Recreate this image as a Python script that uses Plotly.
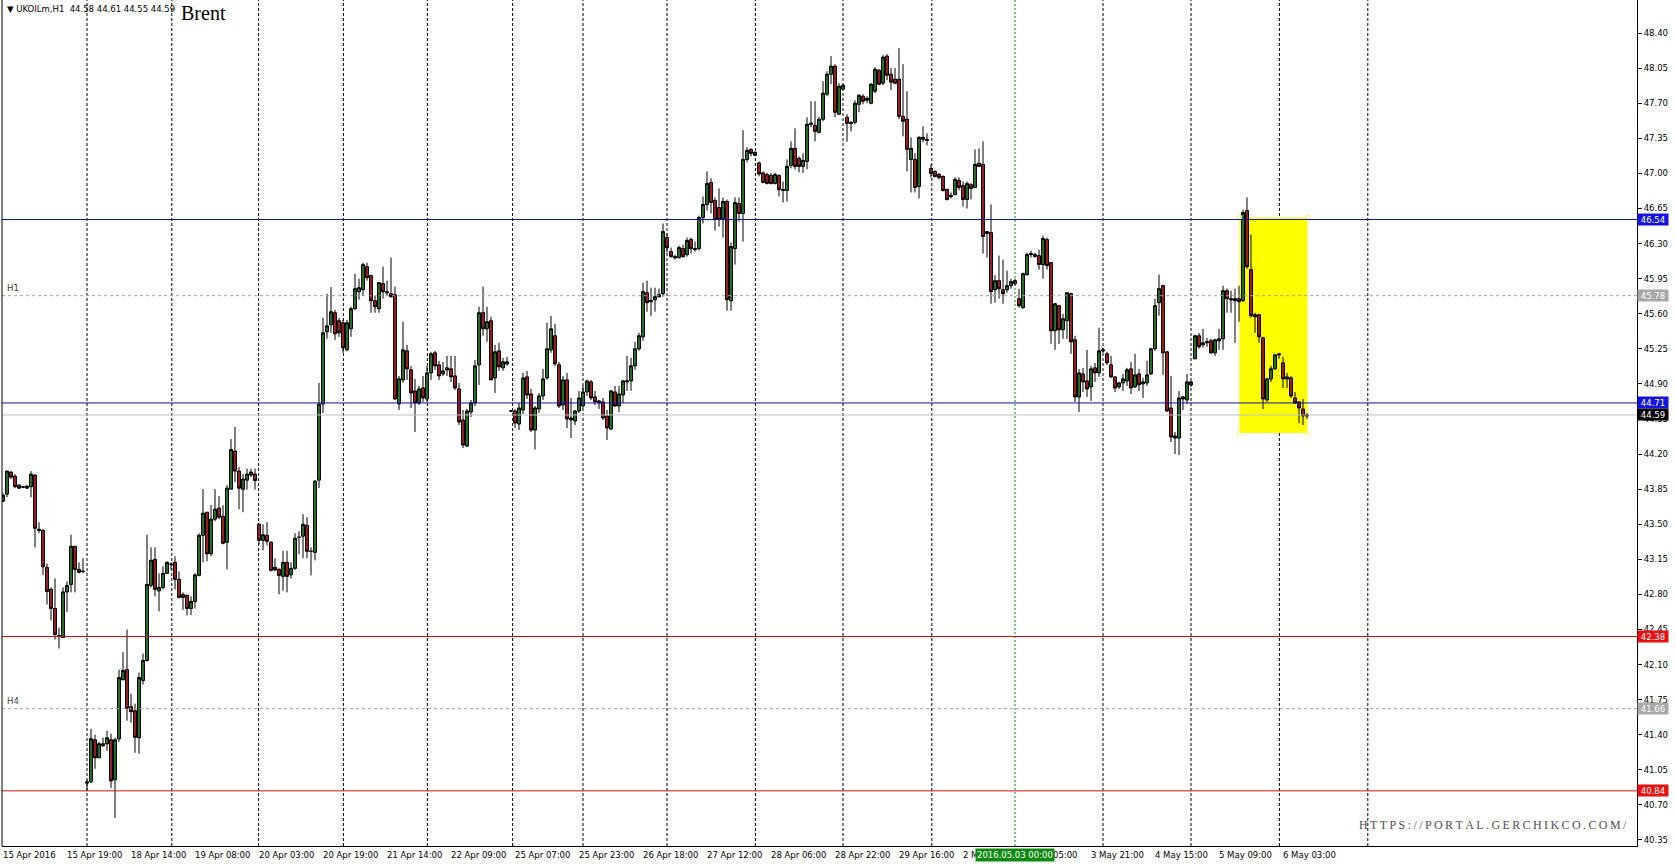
import plotly.graph_objects as go

# ---------------- data (UKOILm, H1) ----------------
opens = [43.73,43.80,44.02,43.98,43.89,43.875,43.86,43.875,43.99,43.45,43.44,43.07,42.85,42.66,42.39,42.37,42.825,42.90,43.28,43.05,43.03,
         40.93,40.93,41.35,41.17,41.29,41.31,41.35,40.95,41.36,41.95,42.05,41.68,41.64,41.37,41.94,42.14,42.89,43.15,42.835,42.87,43.01,43.10,43.12,42.95,42.80,42.79,42.66,42.73,42.99,
         43.39,43.62,43.205,43.55,43.66,43.58,43.32,43.85,44.23,44.03,43.85,43.94,43.99,44.00,43.50,43.34,43.39,43.32,43.07,43.05,
         42.98,43.12,42.995,43.06,43.37,43.38,43.49,43.23,43.22,43.94,44.70,45.42,45.49,45.61,45.53,45.51,45.24,45.45,45.65,45.82,
         45.84,46.07,45.98,45.73,45.65,45.90,45.82,45.80,45.79,44.70,44.94,45.23,45.04,44.83,44.71,44.86,44.75,45.01,45.21,45.09,
         45.00,45.06,45.05,44.98,44.85,44.54,44.28,44.62,44.71,45.09,45.61,45.45,45.53,44.96,45.23,45.06,45.10,44.63,44.63,44.50,
         44.64,44.97,44.80,44.44,44.65,44.78,44.96,45.24,45.38,45.09,44.69,44.94,44.56,44.53,44.63,44.68,44.82,44.92,44.77,44.73,
         44.72,44.58,44.45,44.82,44.68,44.79,44.92,44.93,45.08,45.25,45.37,45.81,45.72,45.74,45.77,45.80,46.36,46.22,46.17,46.16,
         46.25,46.19,46.34,46.25,46.25,46.56,46.69,46.91,46.73,46.66,46.55,46.72,45.73,46.25,46.70,46.60,47.14,47.24,47.21,47.105,
         47.005,46.99,46.98,46.90,46.98,46.84,46.83,47.08,47.25,47.15,47.07,47.12,47.49,47.48,47.41,47.54,47.79,47.99,48.07,47.59,
         47.84,47.56,47.51,47.51,47.69,47.77,47.75,47.70,47.82,48.03,47.90,48.17,47.99,47.94,47.94,47.57,47.54,47.14,47.14,46.87,
         47.36,47.34,47.05,47.02,46.99,46.97,46.84,46.77,46.79,46.93,46.88,46.74,46.89,46.86,47.10,47.09,46.42,46.41,45.84,45.93,
         45.84,45.84,45.88,45.90,45.75,45.66,45.99,46.19,46.19,46.18,46.09,46.34,46.11,45.43,45.68,45.44,45.53,45.80,45.34,44.77,
         45.00,44.93,44.87,45.06,45.01,45.24,45.20,45.09,44.97,44.87,44.91,44.93,45.05,44.87,45.00,44.90,44.91,45.00,45.25,45.71,
         45.88,45.22,44.66,44.36,44.36,44.77,44.74,44.89,45.15,45.38,45.31,45.31,45.33,45.21,45.33,45.35,45.83,45.75,45.75,45.75,
         45.73,46.63,46.04,45.59,45.59,45.36,44.74,44.95,45.05,45.20,45.11,44.97,44.96,44.76,44.72,44.65,44.58]
highs = [43.81,44.035,44.03,44.00,43.90,43.88,43.89,44.03,44.00,43.52,43.45,43.11,42.87,42.96,42.47,42.87,42.93,43.395,43.28,43.12,43.16,
         40.95,41.46,41.40,41.33,41.37,41.44,41.41,41.37,42.05,42.225,42.45,41.81,41.71,42.02,42.21,43.395,43.27,43.27,43.01,43.08,43.13,43.12,43.18,43.03,42.82,42.80,42.78,43.01,43.41,
         43.85,43.62,43.69,43.85,43.78,43.69,43.89,44.35,44.47,44.07,44.00,44.055,44.055,44.055,43.51,43.50,43.52,43.33,43.16,43.06,
         43.235,43.235,43.12,43.41,43.43,43.60,43.57,43.27,43.94,44.91,45.56,45.80,45.865,45.64,45.56,45.54,45.54,45.67,46.00,45.95,
         46.11,46.11,45.99,45.78,45.91,46.07,45.93,46.16,45.87,44.98,45.52,45.29,45.08,44.95,44.88,44.98,45.08,45.22,45.23,45.13,
         45.12,45.18,45.18,45.18,44.91,44.64,44.65,44.74,45.14,45.67,45.87,45.67,45.57,45.29,45.31,45.16,45.17,44.64,44.65,44.71,
         45.01,45.03,44.85,44.68,44.81,45.05,45.51,45.58,45.50,45.12,44.98,45.01,44.76,44.64,44.83,44.88,44.94,44.94,44.83,44.74,
         44.76,44.64,44.84,44.88,44.88,44.94,45.18,45.16,45.32,45.41,45.91,45.93,45.86,45.86,45.85,46.50,46.40,46.26,46.19,46.28,
         46.29,46.36,46.36,46.32,46.58,46.77,47.02,46.95,46.76,46.85,46.76,46.74,46.31,46.76,46.76,47.43,47.26,47.25,47.22,47.12,
         47.02,47.005,47.005,47.005,46.99,46.92,47.14,47.32,47.45,47.17,47.20,47.56,47.72,47.72,47.56,47.92,48.02,48.17,48.09,47.90,
         47.89,47.59,47.52,47.73,47.79,47.79,47.77,47.90,48.06,48.04,48.18,48.19,48.05,48.05,48.25,48.09,47.82,47.36,47.20,47.37,
         47.47,47.40,47.09,47.03,47.005,46.98,46.85,46.81,46.96,46.96,46.92,46.92,46.90,47.24,47.25,47.32,46.42,46.69,45.985,46.18,
         46.14,46.03,45.95,45.95,45.85,46.01,46.21,46.23,46.21,46.24,46.38,46.36,46.11,45.71,45.69,45.60,45.81,45.81,45.38,45.05,
         45.06,45.24,45.08,45.11,45.46,45.26,45.22,45.18,44.98,44.92,45.00,45.06,45.12,45.20,45.05,44.96,45.13,45.26,45.75,45.99,
         45.89,45.23,44.98,44.42,44.83,44.78,45.00,44.93,45.39,45.41,45.45,45.36,45.35,45.35,45.45,45.88,45.85,45.83,45.85,45.88,
         46.64,46.76,46.39,45.61,45.60,45.37,44.96,45.08,45.20,45.21,45.17,45.01,44.98,44.82,44.73,44.75,44.61]
lows = [43.72,43.77,43.95,43.86,43.85,43.86,43.855,43.77,43.27,43.41,42.995,42.70,42.54,42.35,42.26,42.37,42.625,42.82,42.82,43.01,43.01,
        40.84,40.92,41.06,41.17,41.28,41.24,40.87,40.57,41.33,41.94,41.54,41.52,41.22,41.21,41.90,42.13,42.87,42.78,42.63,42.85,43.01,43.045,42.85,42.76,42.645,42.59,42.595,42.66,42.98,
        43.12,43.13,43.18,43.53,43.55,43.30,43.05,43.85,43.92,43.65,43.62,43.845,43.97,43.845,43.30,43.24,43.29,43.03,43.03,42.80,
        42.835,42.82,42.96,43.045,43.20,43.16,43.16,42.99,43.14,43.86,44.61,45.35,45.41,45.34,45.37,45.21,45.225,45.37,45.64,45.74,
        45.78,45.93,45.61,45.61,45.61,45.75,45.78,45.76,44.74,44.64,44.91,44.94,44.66,44.42,44.69,44.72,44.72,44.94,45.04,44.94,
        44.98,44.98,44.92,44.84,44.49,44.26,44.27,44.57,44.68,44.89,45.38,45.32,44.94,44.81,45.03,45.03,45.08,44.62,44.46,44.44,
        44.60,44.75,44.42,44.245,44.61,44.74,44.94,45.21,45.08,44.66,44.64,44.46,44.36,44.49,44.61,44.66,44.78,44.74,44.69,44.65,
        44.54,44.34,44.44,44.67,44.62,44.71,44.83,44.83,45.04,45.23,45.33,45.62,45.58,45.62,45.76,45.77,46.21,46.16,46.14,46.15,
        46.16,46.17,46.20,46.22,46.23,46.50,46.63,46.60,46.43,46.47,46.36,45.63,45.63,46.09,46.52,46.32,47.11,47.17,47.18,46.97,
        46.90,46.89,46.89,46.89,46.77,46.71,46.72,47.05,47.04,47.01,47.005,47.04,47.46,47.32,47.40,47.52,47.77,47.89,47.56,47.59,
        47.84,47.315,47.42,47.49,47.61,47.69,47.70,47.69,47.80,47.88,47.88,47.93,47.83,47.89,47.54,47.37,47.02,46.81,46.81,46.75,
        47.31,47.28,46.96,46.96,46.94,46.82,46.73,46.75,46.78,46.83,46.67,46.65,46.74,46.86,47.07,46.20,46.16,45.70,45.71,45.75,
        45.70,45.81,45.85,45.88,45.66,45.65,45.98,46.16,46.16,46.04,45.95,46.04,45.30,45.24,45.30,45.35,45.35,45.20,44.72,44.62,
        44.82,44.77,44.73,44.92,44.97,45.21,45.09,44.96,44.82,44.85,44.83,44.88,44.80,44.86,44.83,44.76,44.88,44.99,45.23,45.58,
        44.99,44.62,44.32,44.20,44.19,44.64,44.70,44.87,45.15,45.25,45.26,45.27,45.20,45.18,45.24,45.24,45.61,45.61,45.31,45.52,
        45.72,46.05,45.56,45.41,45.31,44.65,44.72,44.92,45.04,45.15,44.86,44.86,44.76,44.70,44.51,44.49,44.55]
closes = [43.79,44.03,43.97,43.875,43.86,43.87,43.88,44.00,43.46,43.44,43.075,42.83,42.66,42.40,42.38,42.825,42.89,43.28,43.05,43.02,43.03,
          40.92,41.36,41.17,41.31,41.31,41.37,40.94,41.35,41.97,42.04,41.665,41.63,41.375,41.97,42.14,42.90,43.14,42.85,42.87,43.01,43.12,43.10,42.95,42.77,42.77,42.66,42.73,42.995,43.39,
          43.61,43.205,43.55,43.65,43.57,43.31,43.86,44.245,44.03,43.86,43.95,44.00,44.02,43.936,43.34,43.395,43.33,43.04,43.045,42.99,
          43.12,42.98,43.06,43.36,43.37,43.50,43.23,43.23,43.93,44.70,45.41,45.48,45.62,45.40,45.41,45.26,45.51,45.65,45.85,45.86,
          46.09,45.96,45.73,45.67,45.91,45.82,45.81,45.77,44.75,44.95,45.24,45.05,44.81,44.71,44.85,44.76,45.01,45.20,45.08,44.98,
          45.03,45.04,44.97,44.86,44.52,44.29,44.63,44.71,45.08,45.61,45.45,45.52,44.94,45.22,45.07,45.12,45.12,44.63,44.51,44.66,
          44.96,44.79,44.44,44.66,44.78,44.95,45.25,45.45,45.10,44.68,44.94,44.55,44.54,44.63,44.76,44.82,44.93,44.76,44.72,44.71,
          44.56,44.46,44.83,44.68,44.80,44.93,44.93,45.08,45.25,45.38,45.82,45.71,45.73,45.77,45.79,46.42,46.26,46.17,46.16,46.26,
          46.17,46.33,46.25,46.24,46.56,46.69,46.90,46.71,46.54,46.54,46.72,45.74,46.27,46.71,46.60,47.14,47.23,47.20,47.18,46.995,
          46.91,46.90,46.90,46.99,46.84,46.83,47.07,47.25,47.07,47.07,47.13,47.49,47.50,47.42,47.54,47.80,47.99,48.07,47.61,47.87,
          47.88,47.50,47.50,47.70,47.78,47.72,47.73,47.89,48.04,47.89,48.16,47.98,47.91,47.90,47.57,47.52,47.24,47.25,46.86,47.36,
          47.34,47.33,47.00,46.97,46.96,46.83,46.74,46.78,46.94,46.86,46.74,46.90,46.85,47.09,47.07,46.37,46.40,45.82,45.93,45.85,
          45.80,45.88,45.92,45.93,45.68,46.00,46.19,46.20,46.17,46.09,46.35,46.08,45.43,45.70,45.44,45.55,45.81,45.32,44.77,45.01,
          44.92,44.85,45.05,45.01,45.23,45.23,45.11,44.97,44.86,44.91,44.95,45.04,44.86,44.99,44.89,44.92,44.99,45.25,45.68,45.85,
          45.21,44.63,44.37,44.38,44.76,44.75,44.92,44.92,45.38,45.27,45.29,45.32,45.21,45.34,45.35,45.83,45.75,45.74,45.73,45.72,
          46.61,46.07,45.58,45.57,45.37,44.75,44.95,45.05,45.19,45.19,44.95,44.95,44.78,44.71,44.66,44.58,44.59]

# time-scale labels (bar index -> visible text; two labels are partly hidden by the green time box)
label_bars = [0, 16, 32, 48, 64, 80, 96, 112, 128, 144, 160, 176, 192, 208, 224, 240, 256, 272, 288, 304, 320]
label_texts = ["15 Apr 2016", "15 Apr 19:00", "18 Apr 14:00", "19 Apr 08:00", "20 Apr 03:00", "20 Apr 19:00",
               "21 Apr 14:00", "22 Apr 09:00", "25 Apr 07:00", "25 Apr 23:00", "26 Apr 18:00", "27 Apr 12:00",
               "28 Apr 06:00", "28 Apr 22:00", "29 Apr 16:00", "2 M", "05:00", "3 May 21:00",
               "4 May 15:00", "5 May 09:00", "6 May 03:00"]
label_shift = {256: 26}
grid_bars = [21, 42.2, 63.9, 85.1, 106.1, 127.4, 145, 166, 188.1, 210, 232.2, 275, 297, 319.1, 341.2]
price_ticks = [48.40, 48.05, 47.70, 47.35, 47.00, 46.65, 46.30, 45.95, 45.60, 45.25, 44.90, 44.55,
               44.20, 43.85, 43.50, 43.15, 42.80, 42.45, 42.10, 41.75, 41.40, 41.05, 40.70, 40.35]

# horizontal levels
blue_levels = [46.54, 44.71]
red_levels = [42.38, 40.84]
tf_levels = [45.78, 41.66]
tf_names = ["H1", "H4"]
bid_price = 44.59
box_bars = [309.1, 326.1]
box_prices = [44.41, 46.56]
vline_bar = 253
vline_text = "2016.05.03 00:00"
header_text = "\u25bc UKOILm,H1  44.58 44.61 44.55 44.59"

# ---------------- figure ----------------
W, H = 1676, 867
ML, MR, MT, MB = 2, 39, 0, 21
X_RANGE = [-0.25, 408.5]
Y_RANGE = [40.29, 48.73]
SMALL = dict(family="DejaVu Sans", size=8.5, color="black")

fig = go.Figure()
bars = list(range(len(opens)))
fig.add_trace(go.Candlestick(
    x=bars, open=opens, high=highs, low=lows, close=closes,
    increasing=dict(line=dict(color="black", width=1), fillcolor="#236e23"),
    decreasing=dict(line=dict(color="black", width=1), fillcolor="#9b1c1c"),
    whiskerwidth=0, hoverinfo="skip", showlegend=False))

shapes = []
shapes.append(dict(type="rect", xref="x", yref="y", x0=box_bars[0], x1=box_bars[1],
                   y0=box_prices[0], y1=box_prices[1], fillcolor="#ffff00",
                   line=dict(width=0), layer="below"))
for g in grid_bars:
    shapes.append(dict(type="line", xref="x", yref="paper", x0=g, x1=g, y0=0, y1=1,
                       line=dict(color="black", width=1, dash="3px,2px"), layer="below"))
shapes.append(dict(type="line", xref="x", yref="paper", x0=vline_bar, x1=vline_bar, y0=0, y1=1,
                   line=dict(color="#0a8a0a", width=1, dash="2px,2px"), layer="below"))
for p in blue_levels:
    shapes.append(dict(type="line", xref="paper", yref="y", x0=0, x1=1, y0=p, y1=p,
                       line=dict(color="#1010a8", width=1)))
for p in red_levels:
    shapes.append(dict(type="line", xref="paper", yref="y", x0=0, x1=1, y0=p, y1=p,
                       line=dict(color="#cc1010", width=1)))
for p in tf_levels:
    shapes.append(dict(type="line", xref="paper", yref="y", x0=0, x1=1, y0=p, y1=p,
                       line=dict(color="#a0a0a0", width=1, dash="3px,3px")))
shapes.append(dict(type="line", xref="paper", yref="y", x0=0, x1=1, y0=bid_price, y1=bid_price,
                   line=dict(color="#c0c0c0", width=1)))
shapes.append(dict(type="line", xref="paper", yref="paper", x0=0, x1=0, y0=0, y1=1,
                   line=dict(color="black", width=1)))

ann = []
tags = [(blue_levels[0], "#1414e0"), (blue_levels[1], "#1414e0"), (red_levels[0], "#e81010"),
        (red_levels[1], "#e81010"), (tf_levels[0], "#a8a8a8"), (tf_levels[1], "#a8a8a8"),
        (bid_price, "#000000")]
for p, c in tags:
    ann.append(dict(xref="paper", yref="y", x=1, y=p, xanchor="left", yanchor="middle",
                    text="%.2f" % p, showarrow=False, bgcolor=c, borderpad=0, width=30, height=11,
                    align="center", font=dict(family="DejaVu Sans", size=8.5, color="white")))
for p, n in zip(tf_levels, tf_names):
    ann.append(dict(xref="paper", yref="y", x=0, y=p, xanchor="left", yanchor="bottom",
                    xshift=3, yshift=1, text=n, showarrow=False,
                    font=dict(family="DejaVu Sans", size=8.5, color="#404040")))
for b, t in zip(label_bars, label_texts):
    ann.append(dict(xref="x", yref="paper", x=b, y=0, xanchor="left", yanchor="top",
                    xshift=-2 + label_shift.get(b, 0), yshift=-2, text=t, showarrow=False, font=SMALL))
ann.append(dict(xref="x", yref="paper", x=vline_bar, y=0, xanchor="center", yanchor="top",
                yshift=-2, text=vline_text, showarrow=False, bgcolor="#108a10", borderpad=1,
                font=dict(family="DejaVu Sans", size=8.5, color="white")))
ann.append(dict(xref="paper", yref="paper", x=0, y=1, xanchor="left", yanchor="top",
                xshift=3, yshift=-2, text=header_text, showarrow=False, font=SMALL))
ann.append(dict(xref="paper", yref="paper", x=0, y=1, xanchor="left", yanchor="top",
                xshift=177, yshift=0, text="Brent", showarrow=False,
                font=dict(family="Liberation Serif", size=20, color="black")))
wm = "\u2009".join("HTTPS://PORTAL.GERCHIKCO.COM/")
ann.append(dict(xref="paper", yref="paper", x=1, y=0, xanchor="right", yanchor="bottom",
                xshift=-8, yshift=12, text=wm, showarrow=False,
                font=dict(family="Liberation Serif", size=12, color="#505050")))

fig.add_trace(go.Scatter(
    x=[box_bars[0], box_bars[1], box_bars[0], box_bars[1]],
    y=[box_prices[0], box_prices[0], box_prices[1], box_prices[1]],
    mode="markers", marker=dict(symbol="square-open", size=4, color="#f4f490", line=dict(width=1)),
    hoverinfo="skip", showlegend=False))

fig.update_layout(
    width=W, height=H, margin=dict(l=ML, r=MR, t=MT, b=MB, pad=0),
    paper_bgcolor="white", plot_bgcolor="white",
    boxgap=0, boxgroupgap=0.25,
    shapes=shapes, annotations=ann, showlegend=False,
    xaxis=dict(range=X_RANGE, showgrid=False, zeroline=False, showticklabels=False,
               showline=True, linecolor="black", linewidth=1, ticks="",
               rangeslider=dict(visible=False), fixedrange=True),
    yaxis=dict(range=Y_RANGE, side="right", showgrid=False, zeroline=False,
               showline=True, linecolor="black", linewidth=1,
               tickmode="array", tickvals=price_ticks, ticktext=["%.2f" % v for v in price_ticks],
               ticks="outside", ticklen=4, tickcolor="black", tickfont=SMALL, fixedrange=True),
)
fig.write_html("out.html", config={"displayModeBar": False},
               post_script="document.body.style.margin='0';document.body.style.padding='0';")
